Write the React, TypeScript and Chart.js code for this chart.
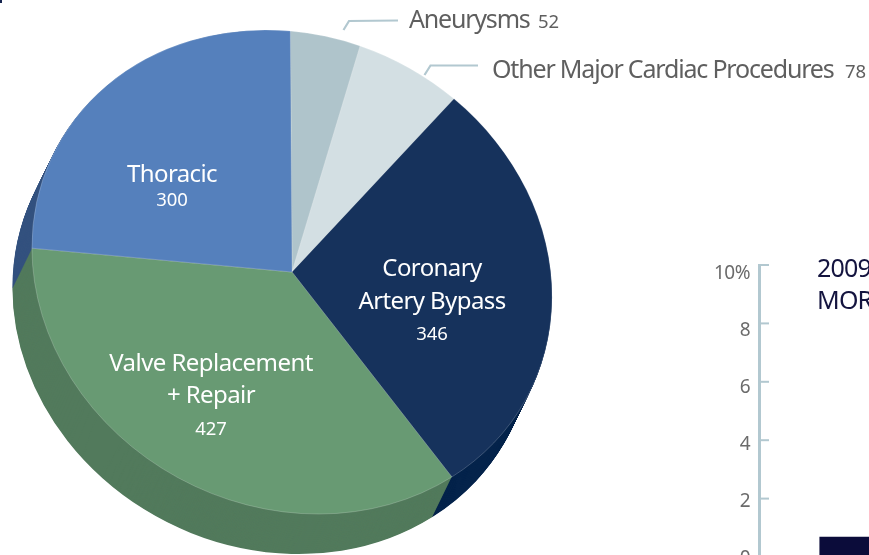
import React, { useEffect, useRef } from "react";
import { Chart, registerables } from "chart.js";

Chart.register(...registerables);

const procedures = ["Aneurysms", "Other Major Cardiac Procedures", "Coronary Artery Bypass", "Valve Replacement + Repair", "Thoracic"];
const caseCounts = [52, 78, 346, 427, 300];
const topColors = ["#afc4cb", "#d3dfe3", "#16325c", "#689a73", "#5580bc"];
const sideColors = ["#8fa6ae", "#b3c2c7", "#04234b", "#527a5c", "#34527f"];

const rateCategories = ["2009"];
const rateValues = [0.68];
const rateTicks = [0, 2, 4, 6, 8, 10];

const FONT = '"Noto Sans"';
const GREY = "#5f5f5f";
const LEADER = "#b2c8d0";

// the pie is photographed tilted: an affine squash of the circle, with a shifted copy as its wall
const M = [260.1 / 240, 12.6 / 240, 12.8 / 240, 242 / 240];
const WALL_X = -19.5;
const WALL_Y = 40;
const WALL_STEPS = 60;

function tilt(ctx: CanvasRenderingContext2D, cx: number, cy: number) {
  ctx.translate(cx, cy);
  ctx.transform(M[0], M[2], M[1], M[3], 0, 0);
  ctx.translate(-cx, -cy);
}

function text(ctx: CanvasRenderingContext2D, s: string, x: number, y: number, size: number, color: string, align: CanvasTextAlign = "left", spacing = "0px") {
  ctx.font = `${size}px ${FONT}`;
  ctx.fillStyle = color;
  ctx.textAlign = align;
  ctx.textBaseline = "alphabetic";
  (ctx as any).letterSpacing = spacing;
  ctx.fillText(s, x, y);
  (ctx as any).letterSpacing = "0px";
}

function polyline(ctx: CanvasRenderingContext2D, pts: number[][]) {
  ctx.beginPath();
  pts.forEach((p, i) => (i ? ctx.lineTo(p[0], p[1]) : ctx.moveTo(p[0], p[1])));
  ctx.strokeStyle = LEADER;
  ctx.lineWidth = 2.2;
  ctx.stroke();
}

const tiltedPie = {
  id: "tiltedPie",
  beforeDatasetsDraw(chart: any) {
    const { ctx } = chart;
    const arcs = chart.getDatasetMeta(0).data;
    for (let s = WALL_STEPS; s >= 1; s--) {
      const t = s / WALL_STEPS;
      arcs.forEach((arc: any, i: number) => {
        ctx.save();
        ctx.translate(WALL_X * t, WALL_Y * t);
        tilt(ctx, arc.x, arc.y);
        ctx.beginPath();
        ctx.moveTo(arc.x, arc.y);
        ctx.arc(arc.x, arc.y, arc.outerRadius, arc.startAngle, arc.endAngle);
        ctx.closePath();
        ctx.fillStyle = sideColors[i];
        ctx.fill();
        ctx.restore();
      });
    }
    const a = arcs[0];
    ctx.save();
    tilt(ctx, a.x, a.y);
  },
  afterDatasetsDraw(chart: any) {
    const { ctx } = chart;
    ctx.restore();

    polyline(ctx, [[343.5, 30], [349, 21], [398, 20.5]]);
    polyline(ctx, [[424.5, 75], [430.5, 65.5], [478, 65.5]]);

    text(ctx, "Aneurysms", 409, 28, 25, GREY, "left", "-1.2px");
    text(ctx, String(caseCounts[0]), 538, 28, 18.5, GREY);
    text(ctx, "Other Major Cardiac Procedures", 492, 78, 25, GREY, "left", "-1.18px");
    text(ctx, String(caseCounts[1]), 845, 78, 18.5, GREY);

    const W = "#ffffff";
    text(ctx, "Coronary", 432, 276, 24, W, "center", "-0.6px");
    text(ctx, "Artery Bypass", 432, 309, 24, W, "center", "-0.6px");
    text(ctx, String(caseCounts[2]), 432, 340, 18.5, W, "center");
    text(ctx, "Valve Replacement", 211, 371, 24, W, "center", "-0.55px");
    text(ctx, "+ Repair", 211, 403, 24, W, "center", "-0.6px");
    text(ctx, String(caseCounts[3]), 211, 435, 18.5, W, "center");
    text(ctx, "Thoracic", 172, 182, 24, W, "center", "-0.6px");
    text(ctx, String(caseCounts[4]), 172, 206, 18.5, W, "center");
  },
};

const axisDecor = {
  id: "axisDecor",
  afterDatasetsDraw(chart: any) {
    const { ctx, scales } = chart;
    const y = scales.y;
    ctx.save();
    ctx.strokeStyle = LEADER;
    ctx.lineWidth = 3;
    ctx.beginPath();
    ctx.moveTo(y.right, y.getPixelForValue(10) - 1);
    ctx.lineTo(y.right, y.getPixelForValue(0) + 10);
    ctx.stroke();
    ctx.lineWidth = 2;
    rateTicks.forEach((v) => {
      const py = y.getPixelForValue(v);
      ctx.beginPath();
      ctx.moveTo(y.right, py);
      ctx.lineTo(y.right + 9.5, py);
      ctx.stroke();
      // the printed labels drift a little below their tick marks, more towards the top
      const drift = v * 0.72;
      text(ctx, v === 10 ? "10%" : String(v), y.right - 9.5, py + drift + 7, 19, "#6b6b6b", "right", "-0.5px");
    });
    text(ctx, "2009", 117, 37, 25, "#14143f", "left", "-0.8px");
    text(ctx, "MOR", 117, 69, 25, "#14143f", "left", "-0.8px");
    ctx.restore();
  },
};

export default function App() {
  const pieRef = useRef<HTMLCanvasElement>(null);
  const barRef = useRef<HTMLCanvasElement>(null);

  useEffect(() => {
    const pie = new Chart(pieRef.current!, {
      type: "pie",
      data: {
        labels: procedures,
        datasets: [{ data: caseCounts, backgroundColor: topColors, borderColor: "rgba(255,255,255,0.3)", borderWidth: 0.6 }],
      },
      options: {
        animation: false,
        responsive: false,
        devicePixelRatio: 1,
        rotation: 2.4,
        layout: { padding: { left: 32, right: 317, top: 32, bottom: 43 } },
        plugins: { legend: { display: false }, tooltip: { enabled: false } },
      },
      plugins: [tiltedPie],
    } as any);

    const bar = new Chart(barRef.current!, {
      type: "bar",
      data: {
        labels: rateCategories,
        datasets: [{ data: rateValues, backgroundColor: "#0b0c3a", barThickness: 120 }],
      },
      options: {
        animation: false,
        responsive: false,
        devicePixelRatio: 1,
        layout: { padding: { left: 0, right: 0, top: 25, bottom: 23 } },
        plugins: { legend: { display: false }, tooltip: { enabled: false } },
        scales: {
          x: { display: false },
          y: {
            min: 0,
            max: 10,
            afterFit: (s: any) => { s.width = 59.5; },
            afterBuildTicks: (s: any) => { s.ticks = rateTicks.map((value) => ({ value })); },
            border: { display: false },
            grid: { display: false, drawTicks: false },
            ticks: { display: false },
          },
        },
      },
      plugins: [axisDecor],
    } as any);

    return () => {
      pie.destroy();
      bar.destroy();
    };
  }, []);

  return (
    <div style={{ position: "fixed", left: 0, top: 0, width: 869, height: 555, overflow: "hidden", background: "#fff" }}>
      <canvas ref={pieRef} width={869} height={555} style={{ position: "absolute", left: 0, top: 0, width: 869, height: 555 }} />
      <canvas ref={barRef} width={300} height={340} style={{ position: "absolute", left: 700, top: 240, width: 300, height: 340 }} />
      <div style={{ position: "absolute", left: 0, top: 0, width: 2, height: 3, background: "#16244f" }} />
    </div>
  );
}
